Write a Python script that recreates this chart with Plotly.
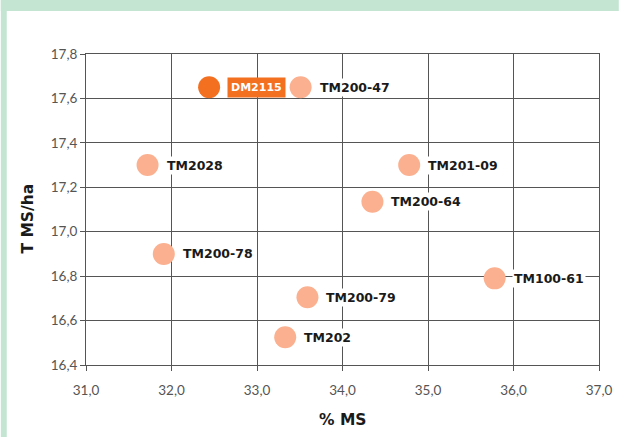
import plotly.graph_objects as go

names = ["DM2115", "TM200-47", "TM2028", "TM201-09", "TM200-64", "TM200-78", "TM100-61", "TM200-79", "TM202"]
pct_ms = [32.44, 33.51, 31.72, 34.78, 34.35, 31.91, 35.78, 33.59, 33.33]
t_ms_ha = [17.65, 17.65, 17.30, 17.30, 17.135, 16.90, 16.79, 16.705, 16.525]
highlight = ["DM2115"]

x_ticks = [31, 32, 33, 34, 35, 36, 37]
x_ticktext = ["31,0", "32,0", "33,0", "34,0", "35,0", "36,0", "37,0"]
y_ticks = [16.4, 16.6, 16.8, 17.0, 17.2, 17.4, 17.6, 17.8]
y_ticktext = ["16,4", "16,6", "16,8", "17,0", "17,2", "17,4", "17,6", "17,8"]

ORANGE = "#f37021"
SALMON = "#fbb08f"
GREEN = "#c5e5d3"
GRID = "#555555"
LABEL_FONT = "DejaVu Sans"

W, H = 624, 437
ml, mr, mt, mb = 86, 20, 54, 72
pw, ph = W - ml - mr, H - mt - mb

colors = [ORANGE if n in highlight else SALMON for n in names]

fig = go.Figure()
fig.add_trace(go.Scatter(
    x=pct_ms, y=t_ms_ha, mode="markers",
    marker=dict(size=22, color=colors, line=dict(width=0)),
    hoverinfo="text", text=names, showlegend=False,
))

for n, x, y in zip(names, pct_ms, t_ms_ha):
    if n in highlight:
        fig.add_annotation(x=x, y=y, xref="x", yref="y", text="<b>%s</b>" % n,
                           showarrow=False, xanchor="left", xshift=18,
                           font=dict(family=LABEL_FONT, size=11, color="white"),
                           bgcolor=ORANGE, borderpad=3)
    else:
        fig.add_annotation(x=x, y=y, xref="x", yref="y", text="<b>%s</b>" % n,
                           showarrow=False, xanchor="left", xshift=17,
                           font=dict(family=LABEL_FONT, size=12.5, color="#1a1a1a"),
                           bgcolor="white", borderpad=1)

# axis titles
fig.add_annotation(x=0.5, y=(mt + ph - 420) / ph, xref="paper", yref="paper",
                   xanchor="center", yanchor="middle",
                   text="<b>% MS</b>", showarrow=False,
                   font=dict(family=LABEL_FONT, size=15.5, color="#1a1a1a"))
fig.add_annotation(x=(27 - ml) / pw, y=(mt + ph - 219) / ph, xref="paper", yref="paper",
                   xanchor="center", yanchor="middle",
                   text="<b>T MS/ha</b>", showarrow=False, textangle=-90,
                   font=dict(family=LABEL_FONT, size=15.5, color="#1a1a1a"))

# green frame
fig.add_shape(type="rect", xref="paper", yref="paper",
              x0=-ml / pw, x1=1 + mr / pw, y0=1 + (mt - 11) / ph, y1=1 + mt / ph,
              fillcolor=GREEN, line=dict(width=0), layer="below")
fig.add_shape(type="rect", xref="paper", yref="paper",
              x0=-ml / pw, x1=(6 - ml) / pw, y0=-mb / ph, y1=1 + mt / ph,
              fillcolor=GREEN, line=dict(width=0), layer="below")

axis_common = dict(showgrid=True, gridcolor=GRID, gridwidth=1,
                   showline=True, linecolor=GRID, linewidth=1, mirror=True,
                   ticks="outside", ticklen=5, tickcolor=GRID, zeroline=False,
                   tickfont=dict(family="Lato", size=13.5, color="#555555"))

fig.update_xaxes(range=[31, 37], tickvals=x_ticks, ticktext=x_ticktext,
                 ticklabelstandoff=8, **axis_common)
fig.update_yaxes(range=[16.4, 17.8], tickvals=y_ticks, ticktext=y_ticktext,
                 **axis_common)

fig.update_layout(width=W, height=H, margin=dict(l=ml, r=mr, t=mt, b=mb),
                  paper_bgcolor="white", plot_bgcolor="white")

fig.write_html("out.html", config={"displayModeBar": False},
               post_script="document.body.style.margin='0';document.body.style.overflow='hidden';")
